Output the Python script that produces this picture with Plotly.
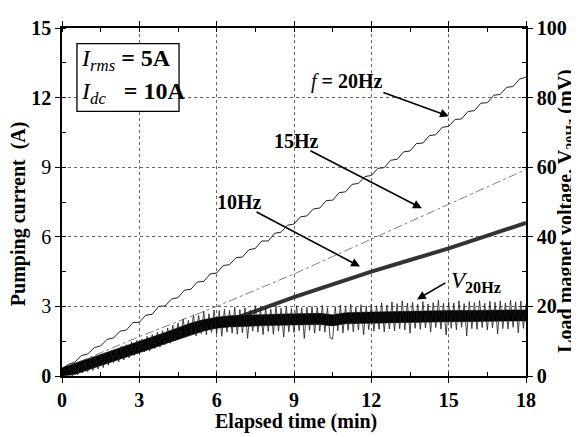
import plotly.graph_objects as go

# ---------------- data ----------------
t_20 = [i * 0.25 for i in range(73)]
i_20 = [0.30, 0.50, 0.60, 0.88, 0.95, 1.22, 1.30, 1.58, 1.64, 1.93, 1.98, 2.30,
        2.32, 2.62, 2.66, 3.00, 3.02, 3.32, 3.38, 3.70, 3.74, 4.05, 4.08, 4.40,
        4.44, 4.76, 4.80, 5.10, 5.13, 5.44, 5.50, 5.82, 5.82, 6.15, 6.20, 6.50,
        6.55, 6.86, 6.90, 7.20, 7.24, 7.56, 7.58, 7.90, 7.94, 8.26, 8.30, 8.60,
        8.64, 8.95, 8.98, 9.30, 9.34, 9.66, 9.70, 10.02, 10.04, 10.36, 10.40, 10.72,
        10.76, 11.06, 11.08, 11.40, 11.44, 11.76, 11.78, 12.10, 12.14, 12.44, 12.48, 12.80,
        12.88]

t_15 = [0, 3, 6, 9, 12, 15, 18]
i_15 = [0.30, 1.70, 3.00, 4.40, 5.90, 7.40, 8.90]

t_10 = [0, 1.5, 3, 4.5, 6, 7.5, 9, 10.5, 12, 13.5, 15, 16.5, 18]
i_10 = [0.10, 0.62, 1.10, 1.65, 2.20, 2.80, 3.40, 3.95, 4.50, 5.00, 5.50, 6.05, 6.60]

# dense core of the V20Hz trace (mV)
t_env = [i * 0.5 for i in range(37)]
v_hi = [2.4, 3.6, 4.9, 6.2, 7.5, 8.7, 9.9, 11.1, 12.5, 13.9, 15.2, 16.2, 16.9,
        17.3, 17.5, 17.6, 17.7, 17.8, 17.9, 17.9, 18.0, 17.6, 18.2, 18.3, 18.4,
        18.5, 18.6, 18.6, 18.7, 18.7, 18.8, 18.8, 18.9, 18.9, 19.0, 19.0, 19.0]
v_lo = [0.0, 0.4, 1.7, 3.0, 4.3, 5.5, 6.7, 7.9, 9.3, 10.7, 12.0, 13.0, 13.7,
        14.1, 14.3, 14.4, 14.5, 14.6, 14.7, 14.7, 14.8, 14.4, 15.0, 15.1, 15.2,
        15.3, 15.4, 15.4, 15.5, 15.5, 15.6, 15.6, 15.7, 15.7, 15.8, 15.8, 15.8]

# spikes of the V20Hz trace (mV)
t_v = [i * 0.1 for i in range(181)]
v_20 = [0.3, 2.0, 0.2, 2.6, 0.1, 3.2, 0.4, 3.6, 0.9, 4.0,
        1.2, 4.8, 1.6, 5.6, 2.0, 6.3, 2.4, 6.5, 3.1, 7.2,
        3.8, 7.6, 4.0, 8.5, 4.6, 9.0, 5.2, 9.8, 5.9, 10.2,
        6.3, 10.6, 6.9, 11.4, 7.2, 11.9, 7.9, 12.6, 8.3, 13.0,
        9.0, 13.8, 9.4, 14.6, 10.1, 15.2, 10.8, 16.4, 11.2, 16.0,
        11.9, 17.6, 11.5, 17.4, 12.2, 18.6, 11.8, 17.9, 12.5, 19.0,
        12.1, 18.8, 11.4, 19.2, 12.6, 18.9, 12.3, 19.8, 12.0, 19.1,
        12.4, 19.6, 10.8, 18.9, 12.9, 20.2, 12.6, 19.3, 11.9, 19.7,
        12.8, 19.2, 12.0, 20.1, 12.9, 19.5, 11.2, 19.9, 12.7, 19.4,
        12.5, 20.2, 13.0, 19.6, 10.8, 19.8, 13.1, 20.0, 12.3, 19.7,
        12.9, 20.3, 12.6, 19.6, 11.0, 10.6, 19.9, 13.0, 20.4, 12.4,
        20.0, 13.1, 20.6, 12.7, 19.8, 13.2, 20.5, 11.8, 20.1, 13.3,
        20.7, 12.9, 20.2, 13.4, 21.0, 12.7, 20.4, 13.5, 21.3, 13.0,
        20.8, 13.6, 21.6, 13.2, 20.9, 12.3, 21.2, 13.7, 20.6, 13.4,
        21.4, 13.8, 20.7, 12.6, 21.1, 13.9, 21.8, 13.5, 20.9, 11.8,
        21.3, 13.7, 21.0, 13.3, 21.6, 14.0, 20.8, 11.5, 21.4, 13.6,
        21.1, 13.4, 21.7, 13.9, 20.9, 13.2, 21.5, 13.8, 21.2, 12.1,
        21.6, 13.6, 21.0, 13.5, 21.8, 14.0, 21.3, 12.4, 21.5, 13.7,
        20.6]

x_ticks = [0, 3, 6, 9, 12, 15, 18]
y_ticks = [0, 3, 6, 9, 12, 15]
y_ticktext = ["<b>0</b>", "3", "6", "9", "<b>12</b>", "<b>15</b>"]
y2_ticks = [0, 20, 40, 60, 80, 100]

FONT = "Liberation Serif"

fig = go.Figure()
fig.add_trace(go.Scatter(x=t_15, y=i_15, mode="lines",
                         line=dict(color="#808080", width=1, dash="dashdot")))
fig.add_trace(go.Scatter(x=t_10, y=i_10, mode="lines",
                         line=dict(color="#333333", width=4)))
fig.add_trace(go.Scatter(x=t_20, y=i_20, mode="lines",
                         line=dict(color="#202020", width=1)))
fig.add_trace(go.Scatter(x=t_env, y=v_lo, mode="lines", yaxis="y2",
                         line=dict(color="black", width=0.5)))
fig.add_trace(go.Scatter(x=t_env, y=v_hi, mode="lines", yaxis="y2", fill="tonexty",
                         fillcolor="black", line=dict(color="black", width=0.5)))
fig.add_trace(go.Scatter(x=t_v, y=v_20, mode="lines", yaxis="y2",
                         line=dict(color="#1a1a1a", width=0.8)))

axis_common = dict(showline=True, linecolor="black", linewidth=1.5,
                   ticks="outside", ticklen=5, tickwidth=1.2, tickcolor="black",
                   tickfont=dict(family=FONT, size=20, color="black"),
                   zeroline=False)

# the page adds an 8px body margin: margins are offset to compensate
fig.update_layout(
    width=571, height=429,
    margin=dict(l=54, r=53, t=9, b=61),
    paper_bgcolor="white", plot_bgcolor="white",
    font=dict(family=FONT, color="black"),
    showlegend=False,
    xaxis=dict(range=[0, 18], tickvals=x_ticks,
               ticktext=[f"<b>{v}</b>" for v in x_ticks],
               showgrid=True, gridcolor="#666", griddash="dot", gridwidth=1,
               mirror="ticks",
               minor=dict(dtick=1.5, tick0=0, ticks="inside", ticklen=4,
                          tickcolor="black", showgrid=False),
               **axis_common),
    yaxis=dict(range=[0, 15], tickvals=y_ticks, ticktext=y_ticktext,
               showgrid=True, gridcolor="#666", griddash="dot", gridwidth=1,
               minor=dict(dtick=1.5, tick0=0, ticks="inside", ticklen=4,
                          tickcolor="black", showgrid=False),
               **axis_common),
    yaxis2=dict(range=[0, 100], tickvals=y2_ticks,
                ticktext=[f"<b>{v}</b>" for v in y2_ticks],
                overlaying="y", side="right", showgrid=False,
                minor=dict(dtick=10, tick0=0, ticks="inside", ticklen=4,
                           tickcolor="black", showgrid=False),
                **axis_common),
)

# legend-like box
fig.add_shape(type="rect", xref="x", yref="y", x0=0.58, x1=4.54, y0=11.41, y1=14.33,
              line=dict(color="black", width=1.3), fillcolor="white", layer="above")

ann_font = dict(family=FONT, size=24, color="black")
fig.add_annotation(x=0.66, y=13.6, xref="x", yref="y", xanchor="left", showarrow=False,
                   text="<i>I</i><sub><i>rms</i></sub><b> = 5A</b>", font=ann_font)
fig.add_annotation(x=0.66, y=12.2, xref="x", yref="y", xanchor="left", showarrow=False,
                   text="<i>I</i><sub><i>dc</i></sub><b>&nbsp;&nbsp; = 10A</b>", font=ann_font)

lab_font = dict(family=FONT, size=20, color="black")
arrow_kw = dict(showarrow=True, arrowhead=2, arrowsize=1.1, arrowwidth=1.6,
                arrowcolor="black", axref="x", ayref="y", xref="x", yref="y")

fig.add_annotation(x=15.01, y=11.2, ax=12.41, ay=12.24, text="", **arrow_kw)
fig.add_annotation(x=11.06, y=12.70, xref="x", yref="y", showarrow=False,
                   text="<i>f</i><b> = 20Hz</b>", font=lab_font)

fig.add_annotation(x=13.96, y=7.23, ax=9.58, ay=9.74, text="", **arrow_kw)
fig.add_annotation(x=9.08, y=10.15, xref="x", yref="y", showarrow=False,
                   text="<b>15Hz</b>", font=lab_font)

fig.add_annotation(x=11.56, y=4.72, ax=7.49, ay=7.10, text="", **arrow_kw)
fig.add_annotation(x=6.87, y=7.52, xref="x", yref="y", showarrow=False,
                   text="<b>10Hz</b>", font=lab_font)

fig.add_annotation(x=13.77, y=3.30, ax=14.93, ay=4.05, text="", **arrow_kw)
fig.add_annotation(x=15.0, y=4.05, xref="x", yref="y", xanchor="left", showarrow=False,
                   text="<i>V</i><sub><b>20Hz</b></sub>",
                   font=dict(family=FONT, size=23, color="black"))

title_font = dict(family=FONT, size=20, color="black")
fig.add_annotation(x=0.505, y=-0.131, xref="paper", yref="paper", showarrow=False,
                   xanchor="center", yanchor="middle",
                   text="<b>Elapsed time (min)</b>", font=title_font)
fig.add_annotation(x=-0.092, y=0.466, xref="paper", yref="paper", showarrow=False,
                   xanchor="center", yanchor="middle",
                   textangle=-90, text="<b>Pumping current&nbsp; (A)</b>", font=title_font)
fig.add_annotation(x=1.087, y=0.476, xref="paper", yref="paper", showarrow=False,
                   xanchor="center", yanchor="middle",
                   textangle=-90,
                   text="<b>Load magnet voltage, V<sub>20Hz</sub> (mV)</b>", font=title_font)

fig.write_html("out.html")
